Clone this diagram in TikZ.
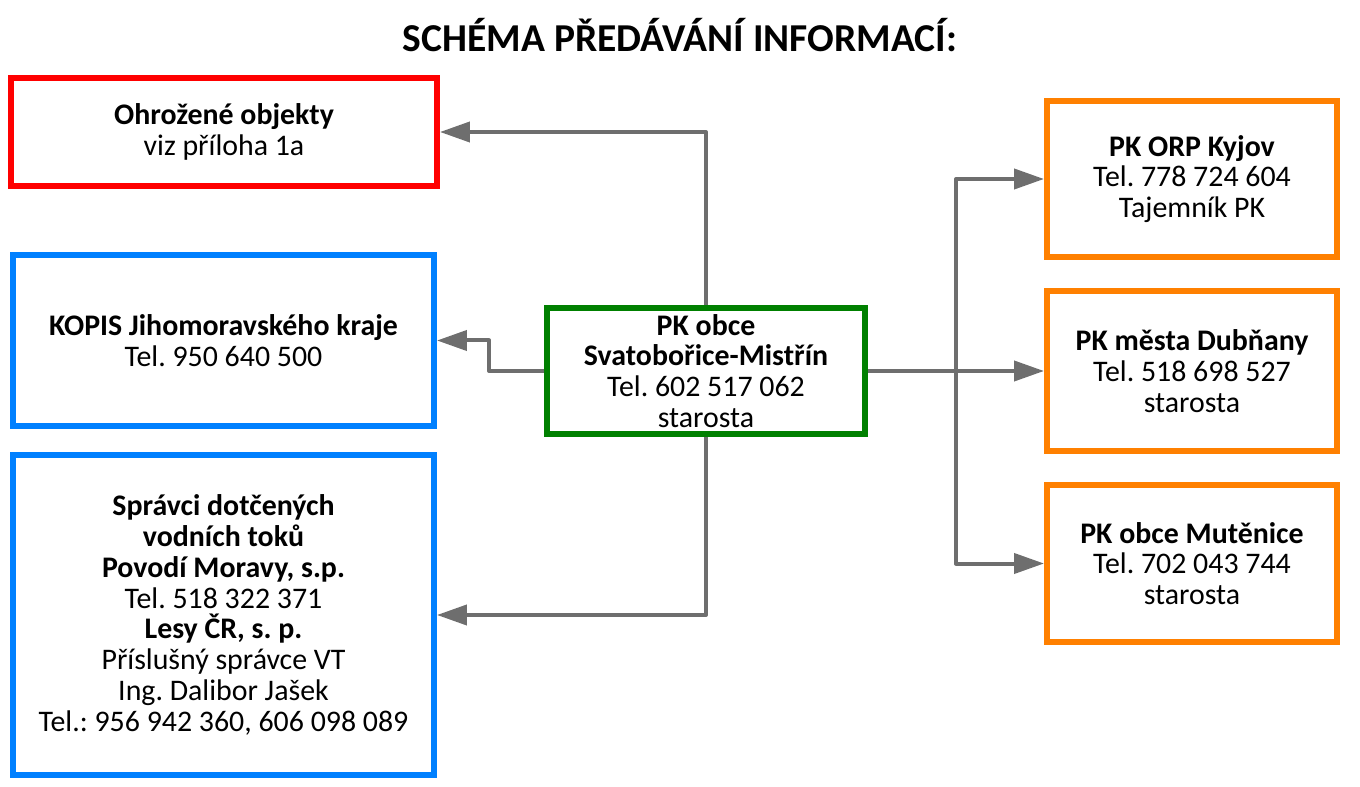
\documentclass[tikz,border=0pt]{standalone}
\usepackage{fontspec}
\setmainfont{Carlito}
\frenchspacing
\usetikzlibrary{arrows.meta, positioning}

\definecolor{threatred}{RGB}{255,0,0}
\definecolor{kopisblue}{RGB}{0,128,255}
\definecolor{centergreen}{RGB}{0,128,0}
\definecolor{pkorange}{RGB}{255,128,0}
\definecolor{linkgray}{RGB}{110,110,110}

\tikzset{
    infobox/.style={draw, line width=0.12cm, align=center, inner sep=0pt},
    link/.style={draw=linkgray, line width=0.08cm, line join=round, ->},
}

\begin{document}
\begin{tikzpicture}[x=0.02cm, y=-0.02cm, font=\fontsize{17}{17.5}\selectfont, >={Triangle[length=0.6cm, width=0.4cm]}]
    \useasboundingbox (0,0) rectangle (1360,787);
    \node[font=\fontsize{22.5}{26}\selectfont\bfseries] (title) at (680,35) {SCHÉMA PŘEDÁVÁNÍ INFORMACÍ:};

    % left side
    \node[infobox, draw=threatred, minimum width=8.52cm, minimum height=2.16cm] (threat) at (224,132) {\textbf{Ohrožené objekty}\\viz příloha 1a};
    \node[infobox, draw=kopisblue, minimum width=8.42cm, minimum height=3.42cm] (kopis) at (223.5,340.5) {\textbf{KOPIS Jihomoravského kraje}\\Tel. 950 640 500};
    \node[infobox, draw=kopisblue, minimum width=8.42cm, minimum height=6.4cm] (spravci) at (223.5,615) {\textbf{Správci dotčených}\\\textbf{vodních toků}\\\textbf{Povodí Moravy, s.p.}\\Tel. 518 322 371\\\textbf{Lesy ČR, s. p.}\\Příslušný správce VT\\Ing. Dalibor Jašek\\Tel.: 956 942 360, 606 098 089};

    % center
    \node[infobox, draw=centergreen, minimum width=6.36cm, minimum height=2.52cm] (obec) at (706,371) {\textbf{PK obce}\\\textbf{Svatobořice-Mistřín}\\Tel. 602 517 062\\starosta};

    % right side
    \node[infobox, draw=pkorange, minimum width=5.8cm, minimum height=3.12cm] (orp) at (1192,179) {\textbf{PK ORP Kyjov}\\Tel. 778 724 604\\Tajemník PK};
    \node[infobox, draw=pkorange, minimum width=5.8cm, minimum height=3.22cm] (dubnany) at (1192,371) {\textbf{PK města Dubňany}\\Tel. 518 698 527\\starosta};
    \node[infobox, draw=pkorange, minimum width=5.8cm, minimum height=3.14cm] (mutenice) at (1192,563.5) {\textbf{PK obce Mutěnice}\\Tel. 702 043 744\\starosta};

    % connectors
    \draw[link] (obec.north) |- (threat.east);
    \draw[link] (obec.west) -- ++(-55,0) |- (kopis.east);
    \draw[link] (obec.south) |- (spravci.east);

    \draw[link, -] (obec.east) -- ++(88,0) coordinate (bus);
    \draw[link] (bus) |- (orp.west);
    \draw[link] (bus) -- (dubnany.west);
    \draw[link] (bus) |- (mutenice.west);
\end{tikzpicture}
\end{document}
